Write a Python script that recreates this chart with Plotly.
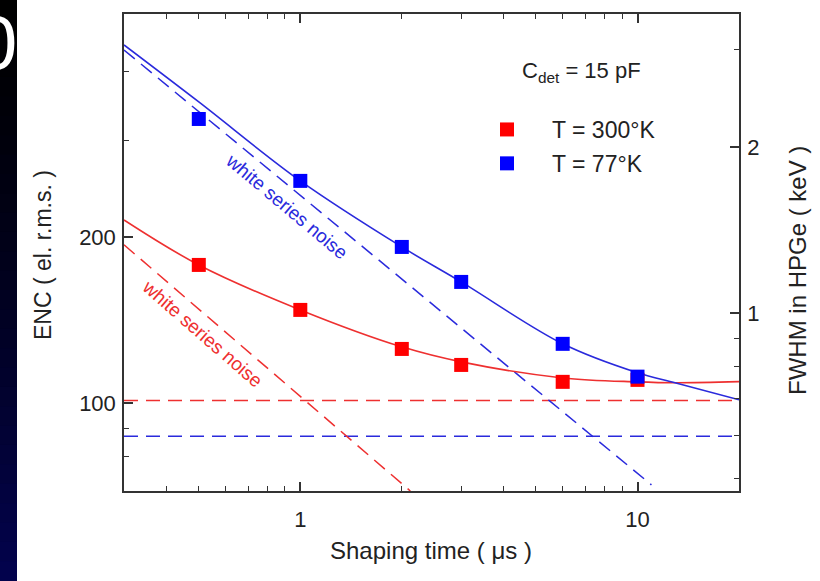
import math
import plotly.graph_objects as go

# ---------------- data ----------------
tau_meas = [0.5, 1, 2, 3, 6, 10]                       # shaping time (us)
enc_300K = [178, 147.5, 125.3, 117.2, 109.2, 110.1]    # el. r.m.s.
enc_77K = [327.6, 252.9, 191.9, 165.8, 128.0, 111.6]

tau_fit = [0.3, 0.5, 1, 2, 3, 6, 10, 13, 20]
fit_300K = [214.8, 178, 147.5, 126.4, 118.7, 111.0, 109.2, 108.8, 109.3]
fit_77K = [446.4, 351.8, 252.9, 191.9, 165.8, 128.0, 113.4, 108.7, 101.3]

ws_tau_300K = [0.3, 2.12]          # white series noise asymptotes
ws_enc_300K = [193.6, 69.2]
ws_tau_77K = [0.3, 11.0]
ws_enc_77K = [437.0, 71.0]

flat_tau = [0.3, 20]               # 1/f noise levels
flat_300K = [101, 101]
flat_77K = [87, 87]

x_ticks = [1, 10]
x_ticktext = ["1", "10"]
x_minor = [0.4, 0.5, 0.6, 0.7, 0.8, 0.9, 2, 3, 4, 5, 6, 7, 8, 9, 20]
y_ticks = [100, 200]
y_ticktext = ["100", "200"]
y_minor = [80, 90, 300, 400]
y2_ticks = [1, 2]
y2_ticktext = ["1", "2"]
y2_minor = [0.5, 0.6, 0.7, 0.8, 0.9, 3]

KEV_PER_EL = 0.006863              # FWHM (keV) per electron r.m.s. in HPGe
X_RANGE = [0.3, 20]
Y_RANGE = [69.2, 508]

# ---------------- layout geometry ----------------
W, H = 820, 581
L, R, T, B = 124, 739, 14, 491
PW, PH = R - L, B - T


def px(x):
    return (x - L) / PW


def py(y):
    return (B - y) / PH


FONT = "Liberation Sans, Arial, sans-serif"
RED_L = "#ee3030"
BLUE_L = "#2a2adc"
RED_M = "#ff0000"
BLUE_M = "#0000ff"
AX = "#333333"

fig = go.Figure()

dash = "14px,8px"
fig.add_trace(go.Scatter(x=flat_tau, y=flat_300K, mode="lines", showlegend=False,
                         line=dict(color=RED_L, width=1.5, dash=dash), hoverinfo="skip"))
fig.add_trace(go.Scatter(x=flat_tau, y=flat_77K, mode="lines", showlegend=False,
                         line=dict(color=BLUE_L, width=1.5, dash=dash), hoverinfo="skip"))
fig.add_trace(go.Scatter(x=ws_tau_300K, y=ws_enc_300K, mode="lines", showlegend=False,
                         line=dict(color=RED_L, width=1.5, dash=dash), hoverinfo="skip"))
fig.add_trace(go.Scatter(x=ws_tau_77K, y=ws_enc_77K, mode="lines", showlegend=False,
                         line=dict(color=BLUE_L, width=1.5, dash=dash), hoverinfo="skip"))
fig.add_trace(go.Scatter(x=tau_fit, y=fit_300K, mode="lines", showlegend=False,
                         line=dict(color=RED_L, width=1.6, shape="spline"), hoverinfo="skip"))
fig.add_trace(go.Scatter(x=tau_fit, y=fit_77K, mode="lines", showlegend=False,
                         line=dict(color=BLUE_L, width=1.6, shape="spline"), hoverinfo="skip"))
fig.add_trace(go.Scatter(x=tau_meas, y=enc_300K, mode="markers", name="T = 300°K",
                         legendgroup="a",
                         marker=dict(symbol="square", size=14, color=RED_M, line=dict(width=0))))
fig.add_trace(go.Scatter(x=tau_meas, y=enc_77K, mode="markers", name="T = 77°K",
                         legendgroup="b",
                         marker=dict(symbol="square", size=14, color=BLUE_M, line=dict(width=0))))
# invisible trace so the FWHM axis is drawn
fig.add_trace(go.Scatter(x=tau_meas, y=[v * KEV_PER_EL for v in enc_77K], yaxis="y2",
                         mode="markers", marker=dict(opacity=0), showlegend=False,
                         hoverinfo="skip"))

common = dict(showgrid=False, zeroline=False, showline=True, linecolor=AX, linewidth=1.5,
              ticks="inside", ticklen=9, tickwidth=1.5, tickcolor=AX,
              tickfont=dict(family=FONT, size=22, color="#222"))
minor_common = dict(ticks="inside", ticklen=5, tickwidth=1.3, tickcolor=AX)

y_lo, y_hi = math.log10(Y_RANGE[0]), math.log10(Y_RANGE[1])
k = math.log10(KEV_PER_EL)

fig.update_layout(
    width=W, height=H,
    margin=dict(l=L, r=W - R, t=T, b=H - B, pad=0),
    paper_bgcolor="white", plot_bgcolor="white",
    font=dict(family=FONT, color="#222"),
    xaxis=dict(type="log", range=[math.log10(X_RANGE[0]), math.log10(X_RANGE[1])],
               tickvals=x_ticks, ticktext=x_ticktext, mirror="ticks",
               minor=dict(tickvals=x_minor, **minor_common),
               ticklabelstandoff=8, **common),
    yaxis=dict(type="log", range=[y_lo, y_hi], tickvals=y_ticks, ticktext=y_ticktext,
               minor=dict(tickvals=y_minor, **minor_common),
               ticklabelstandoff=2, **common),
    yaxis2=dict(type="log", range=[y_lo + k, y_hi + k], overlaying="y", side="right",
                tickvals=y2_ticks, ticktext=y2_ticktext,
                minor=dict(tickvals=y2_minor, **minor_common),
                ticklabelstandoff=2, **common),
    legend=dict(x=px(462), y=py(108), xanchor="left", yanchor="top",
                bgcolor="rgba(0,0,0,0)", borderwidth=0, itemwidth=80,
                font=dict(family=FONT, size=23, color="#222"),
                traceorder="grouped", tracegroupgap=1),
    showlegend=True,
)

ann = []
ann.append(dict(text="Shaping time ( μs )", x=px(431), y=py(550), xref="paper", yref="paper",
                showarrow=False, font=dict(family=FONT, size=24, color="#222"),
                xanchor="center", yanchor="middle"))
ann.append(dict(text="ENC ( el. r.m.s. )", x=px(43), y=py(255), xref="paper", yref="paper",
                showarrow=False, textangle=-90, font=dict(family=FONT, size=23, color="#222"),
                xanchor="center", yanchor="middle"))
ann.append(dict(text="FWHM in HPGe ( keV )", x=px(797), y=py(271), xref="paper", yref="paper",
                showarrow=False, textangle=-90, font=dict(family=FONT, size=24, color="#222"),
                xanchor="center", yanchor="middle"))
ann.append(dict(text="C<sub>det</sub> = 15 pF", x=px(581), y=py(72), xref="paper", yref="paper",
                showarrow=False, font=dict(family=FONT, size=22, color="#222"),
                xanchor="center", yanchor="middle"))
ann.append(dict(text="white series noise", x=px(287), y=py(206), xref="paper", yref="paper",
                showarrow=False, textangle=40, font=dict(family=FONT, size=19, color=BLUE_L),
                xanchor="center", yanchor="middle"))
ann.append(dict(text="white series noise", x=px(202), y=py(334), xref="paper", yref="paper",
                showarrow=False, textangle=41, font=dict(family=FONT, size=19, color=RED_L),
                xanchor="center", yanchor="middle"))
# slide artefact at the left edge
ann.append(dict(text="0", x=px(-4), y=py(42), xref="paper", yref="paper",
                showarrow=False, font=dict(family=FONT, size=76, color="white"),
                xanchor="center", yanchor="middle"))

shapes = []
n = 30
for i in range(n):
    y0 = H * i / n
    y1 = H * (i + 1) / n
    f = (i + 0.5) / n
    c = "rgb(%d,%d,%d)" % (int(3 * f), int(3 * f), int(78 * f ** 1.3))
    shapes.append(dict(type="rect", xref="paper", yref="paper",
                       x0=px(0), x1=px(17), y0=py(y1 + 0.5), y1=py(y0 - 0.5),
                       line=dict(width=0), fillcolor=c, layer="below"))

fig.update_layout(annotations=ann, shapes=shapes)
fig.write_html("out.html", config={"displayModeBar": False},
               post_script="document.body.style.margin='0';document.body.style.overflow='hidden';")
